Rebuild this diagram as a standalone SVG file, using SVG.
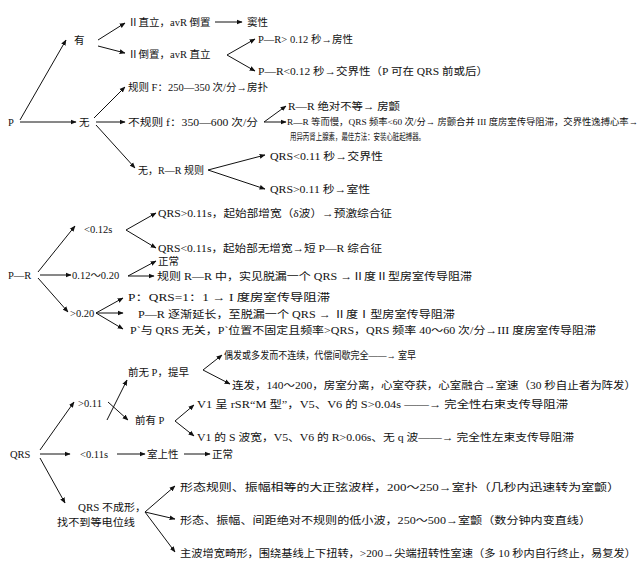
<svg xmlns="http://www.w3.org/2000/svg" width="640" height="572" viewBox="0 0 640 572">
<style>
text{font-family:"Liberation Serif","Noto Sans CJK SC",serif;font-size:10.5px;fill:#111}
.s{font-size:9px}
.c line,.c polyline{stroke:#111;stroke-width:1;fill:none}
.a{marker-end:url(#ah)}
</style>
<defs><marker id="ah" viewBox="0 0 10 10" refX="9" refY="5" markerWidth="6" markerHeight="6" orient="auto"><path d="M0,1 L10,5 L0,9 z" fill="#111"/></marker></defs>
<rect width="640" height="572" fill="#fff"/>
<g class="c">
<line class="a" x1="20" y1="120" x2="66" y2="40"/>
<line class="a" x1="20" y1="122" x2="76" y2="122"/>
<line class="a" x1="98" y1="40" x2="125" y2="23"/>
<line class="a" x1="98" y1="46" x2="125" y2="53"/>
<line class="a" x1="215" y1="22" x2="242" y2="22"/>
<line class="a" x1="227" y1="55" x2="255" y2="39"/>
<line class="a" x1="227" y1="55" x2="255" y2="71"/>
<line class="a" x1="94" y1="118" x2="125" y2="87"/>
<line class="a" x1="96" y1="122" x2="125" y2="122"/>
<line class="a" x1="96" y1="125" x2="135" y2="168"/>
<line class="a" x1="264" y1="122" x2="286" y2="106"/>
<line class="a" x1="264" y1="122" x2="286" y2="122"/>
<line class="a" x1="208" y1="170" x2="265" y2="155"/>
<line class="a" x1="208" y1="170" x2="265" y2="189"/>
<line class="a" x1="38" y1="272" x2="75" y2="226"/>
<line class="a" x1="126" y1="230" x2="156" y2="213"/>
<line class="a" x1="126" y1="230" x2="156" y2="248"/>
<line class="a" x1="40" y1="275" x2="71" y2="275"/>
<line class="a" x1="128" y1="276" x2="156" y2="261"/>
<line class="a" x1="128" y1="276" x2="154" y2="276"/>
<line class="a" x1="38" y1="278" x2="68" y2="312"/>
<line class="a" x1="96" y1="313" x2="123" y2="298"/>
<line class="a" x1="96" y1="313" x2="123" y2="313"/>
<line class="a" x1="96" y1="313" x2="123" y2="329"/>
<line class="a" x1="40" y1="450" x2="74" y2="402"/>
<line class="a" x1="107" y1="420" x2="127" y2="380"/>
<line class="a" x1="108" y1="402" x2="128" y2="420"/>
<line class="a" x1="203" y1="370" x2="222" y2="355"/>
<line class="a" x1="203" y1="370" x2="230" y2="384"/>
<line class="a" x1="175" y1="421" x2="194" y2="405"/>
<line class="a" x1="175" y1="421" x2="194" y2="436"/>
<line class="a" x1="40" y1="454" x2="70" y2="454"/>
<line class="a" x1="117" y1="454" x2="145" y2="454"/>
<line class="a" x1="184" y1="454" x2="210" y2="454"/>
<line class="a" x1="40" y1="458" x2="65" y2="503"/>
<line class="a" x1="145" y1="512" x2="175" y2="486"/>
<line class="a" x1="145" y1="512" x2="175" y2="519"/>
<line class="a" x1="145" y1="512" x2="175" y2="552"/>
</g>
<g id="p"><text x="8" y="126">P</text></g>
<g id="you"><text x="74" y="44">有</text></g>
<g id="wu"><text x="79" y="126">无</text></g>
<g id="n1"><text x="128" y="26">Ⅱ直立，avR 倒置</text><text x="247" y="26">窦性</text></g>
<g id="n2"><text x="128" y="58">Ⅱ倒置，avR 直立</text></g>
<g id="n3"><text x="258" y="43">P—R&gt; 0.12 秒→房性</text></g>
<g id="n4"><text x="258" y="75" textLength="230" lengthAdjust="spacingAndGlyphs">P—R&lt;0.12 秒→交界性（P 可在 QRS 前或后）</text></g>
<g id="n5"><text x="128" y="91" textLength="140" lengthAdjust="spacingAndGlyphs">规则 F：250—350 次/分→房扑</text></g>
<g id="n6"><text x="128" y="126" textLength="130" lengthAdjust="spacingAndGlyphs">不规则 f：350—600 次/分</text></g>
<g id="n7"><text x="288" y="110" textLength="112" lengthAdjust="spacingAndGlyphs">R—R 绝对不等→ 房颤</text></g>
<g id="n8"><text class="s" x="287" y="125" textLength="351" lengthAdjust="spacingAndGlyphs">R—R 等而慢，QRS 频率&lt;60 次/分→ 房颤合并 III 度房室传导阻滞，交界性逸搏心率→</text><text class="s" x="290" y="140" textLength="135" lengthAdjust="spacingAndGlyphs">用异丙肾上腺素，最佳方法：安装心脏起搏器。</text></g>
<g id="n9"><text x="138" y="174" textLength="66" lengthAdjust="spacingAndGlyphs">无，R—R 规则</text></g>
<g id="n10"><text x="270" y="160" textLength="113" lengthAdjust="spacingAndGlyphs">QRS&lt;0.11 秒→交界性</text></g>
<g id="n11"><text x="270" y="193" textLength="100" lengthAdjust="spacingAndGlyphs">QRS&gt;0.11 秒→室性</text></g>
<g id="pr"><text x="8" y="279">P—R</text></g>
<g id="r1"><text x="84" y="233">&lt;0.12s</text></g>
<g id="r2"><text x="158" y="217" textLength="234" lengthAdjust="spacingAndGlyphs">QRS&gt;0.11s，起始部增宽（δ波）→预激综合征</text></g>
<g id="r3"><text x="158" y="252" textLength="224" lengthAdjust="spacingAndGlyphs">QRS&lt;0.11s，起始部无增宽→短 P—R 综合征</text></g>
<g id="r4"><text x="72" y="279">0.12～0.20</text></g>
<g id="r5"><text x="158" y="265">正常</text></g>
<g id="r6"><text x="157" y="280" textLength="315" lengthAdjust="spacingAndGlyphs">规则 R—R 中，实见脱漏一个 QRS →Ⅱ度Ⅱ型房室传导阻滞</text></g>
<g id="r7"><text x="70" y="317">&gt;0.20</text></g>
<g id="r8"><text x="128" y="301" textLength="202" lengthAdjust="spacingAndGlyphs">P：QRS=1：1 → I 度房室传导阻滞</text></g>
<g id="r9"><text x="138" y="318" textLength="317" lengthAdjust="spacingAndGlyphs">P—R 逐渐延长，至脱漏一个 QRS → Ⅱ度Ⅰ型房室传导阻滞</text></g>
<g id="r10"><text x="130" y="334" textLength="466" lengthAdjust="spacingAndGlyphs">P`与 QRS 无关，P`位置不固定且频率&gt;QRS，QRS 频率 40～60 次/分→III 度房室传导阻滞</text></g>
<g id="qrs"><text x="10" y="458">QRS</text></g>
<g id="q1"><text x="78" y="407">&gt;0.11</text></g>
<g id="q2"><text x="128" y="376">前无 P，提早</text></g>
<g id="q3"><text x="135" y="424">前有 P</text></g>
<g id="q4"><text x="224" y="359" textLength="192" lengthAdjust="spacingAndGlyphs">偶发或多发而不连续，代偿间歇完全——→ 室早</text></g>
<g id="q5"><text x="232" y="389" textLength="404" lengthAdjust="spacingAndGlyphs">连发，140～200，房室分离，心室夺获，心室融合→室速（30 秒自止者为阵发）</text></g>
<g id="q6"><text x="197" y="408" textLength="371" lengthAdjust="spacingAndGlyphs">V1 呈 rSR“M 型”，V5、V6 的 S&gt;0.04s ——→ 完全性右束支传导阻滞</text></g>
<g id="q7"><text x="197" y="441" textLength="377" lengthAdjust="spacingAndGlyphs">V1 的 S 波宽，V5、V6 的 R&gt;0.06s、无 q 波——→ 完全性左束支传导阻滞</text></g>
<g id="q8"><text x="80" y="458">&lt;0.11s</text><text x="147" y="458">室上性</text><text x="212" y="458">正常</text></g>
<g id="q9"><text x="78" y="511" textLength="68" lengthAdjust="spacingAndGlyphs">QRS 不成形，</text><text x="57" y="526" textLength="78" lengthAdjust="spacingAndGlyphs">找不到等电位线</text></g>
<g id="q10"><text x="180" y="491" textLength="440" lengthAdjust="spacingAndGlyphs">形态规则、振幅相等的大正弦波样，200～250→室扑（几秒内迅速转为室颤）</text></g>
<g id="q11"><text x="180" y="524" textLength="411" lengthAdjust="spacingAndGlyphs">形态、振幅、间距绝对不规则的低小波，250～500→室颤（数分钟内变直线）</text></g>
<g id="q12"><text x="180" y="557" textLength="456" lengthAdjust="spacingAndGlyphs">主波增宽畸形，围绕基线上下扭转，&gt;200→尖端扭转性室速（多 10 秒内自行终止，易复发）</text></g>
</svg>
